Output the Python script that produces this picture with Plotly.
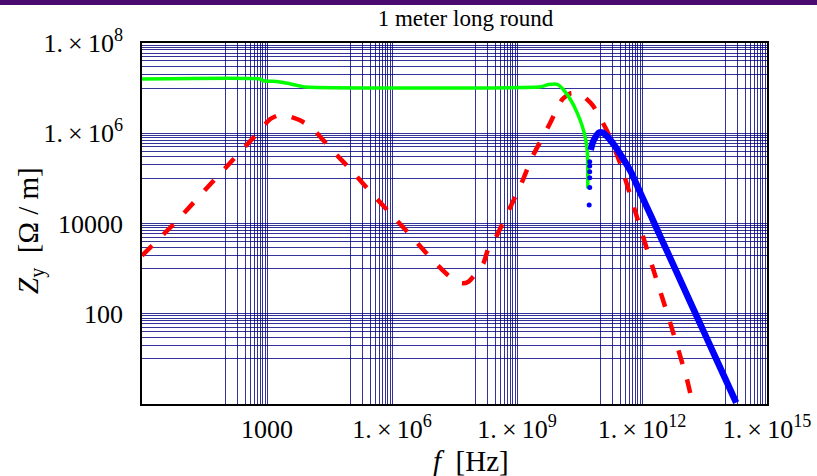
import plotly.graph_objects as go

# ---------------- data ----------------
# red dashed curve
red_f = [1, 6.2, 57, 589, 1.2e3, 2.19e3, 6.0e3, 1.23e4, 3.16e4, 9.5e4, 2.88e5, 9.1e5,
         2.82e6, 8.7e6, 2.29e7, 4.7e7, 6.8e7, 1.55e8, 2.09e8, 3.16e8, 6.0e8, 1.23e9,
         2.34e9, 5.9e9, 1.23e10, 1.95e10, 3.4e10, 6.5e10, 1.48e11, 3.1e11, 7.1e11,
         1.78e12, 4.8e12, 1.2e13, 1.62e13, 2.24e13]
red_z = [1.95e3, 1.04e4, 9.7e4, 9.95e5, 2.07e6, 2.6e6, 1.96e6, 1.29e6, 4.86e5, 1.67e5,
         5.3e4, 1.67e4, 5.4e3, 1.68e3, 700, 476, 513, 1.3e3, 2.95e3, 5.1e3, 1.76e4, 7.1e4,
         3.0e5, 1.52e6, 5.65e6, 7.7e6, 7.3e6, 4.2e6, 1.08e6, 1.97e5, 1.67e4,
         1.1e3, 61, 3.5, 1.1, 0.45]

# green curve
green_f = [1, 692, 813, 1.86e3, 3.09e3, 4.79e3, 8.3e3, 3.7e9, 5.75e9, 9.3e9, 1.32e10,
           1.95e10, 2.82e10, 3.72e10, 4.47e10, 4.9e10, 5.0e10]
green_z = [1.59e7, 1.59e7, 1.46e7, 1.39e7, 1.28e7, 1.17e7, 1.06e7, 1.07e7, 1.2e7, 1.21e7,
           9.1e6, 5.45e6, 2.76e6, 1.39e6, 7.1e5, 3.64e5, 6.0e4]

# blue points: sparse start
blue_dot_f = [5.4e10, 5.56e10, 5.56e10, 5.56e10, 5.56e10, 5.56e10]
blue_dot_z = [2.56e4, 6.3e4, 1.03e5, 1.4e5, 1.87e5, 2.33e5]
# blue points: dense part
blue_f = [5.87e10, 6.46e10, 7.33e10, 9.3e10, 1.12e11, 1.48e11, 2.14e11, 3.1e11, 5.4e11,
          9.3e11, 1.62e12, 2.82e12, 4.47e12, 1.0e13, 3.16e13, 1.0e14, 1.82e14]
blue_z = [4.25e5, 5.97e5, 7.7e5, 1.03e6, 1.03e6, 8.4e5, 5.5e5, 3.3e5, 1.4e5,
          4.6e4, 1.51e4, 4.9e3, 1.95e3, 380, 37, 3.6, 1.07]

# axis ticks
SEP = "\u2009×\u2009"
x_tick_vals = [1e3, 1e6, 1e9, 1e12, 1e15]
x_tick_text = ["1000", f"1.{SEP}10<sup>6</sup>", f"1.{SEP}10<sup>9</sup>",
               f"1.{SEP}10<sup>12</sup>", f"1.{SEP}10<sup>15</sup>"]
y_tick_vals = [1e2, 1e4, 1e6, 1e8]
y_tick_text = ["100", "10000", f"1.{SEP}10<sup>6</sup>", f"1.{SEP}10<sup>8</sup>"]

# grid groups (decade below each labelled tick)
x_grid_decades = [2, 5, 8, 11, 14]
y_grid_decades = [1, 3, 5, 7]
grid_multipliers = [1, 2, 3, 4, 5, 6, 7, 8, 9]

x_minor = [m * 10 ** d for d in x_grid_decades for m in grid_multipliers]
y_minor = [m * 10 ** d for d in y_grid_decades for m in grid_multipliers]

FONT = "Liberation Serif, Times New Roman, serif"
GRID = "rgba(0,0,128,0.8)"

fig = go.Figure()
fig.add_trace(go.Scatter(x=red_f, y=red_z, mode="lines",
                         line=dict(color="#ff0000", width=4.5, dash="14px,16px",
                                   shape="spline", smoothing=0.6),
                         showlegend=False, hoverinfo="skip"))
fig.add_trace(go.Scatter(x=green_f, y=green_z, mode="lines",
                         line=dict(color="#00ff00", width=3.5, shape="spline", smoothing=0.5),
                         showlegend=False, hoverinfo="skip"))
fig.add_trace(go.Scatter(x=blue_dot_f, y=blue_dot_z, mode="markers",
                         marker=dict(color="#0000ff", size=5),
                         showlegend=False, hoverinfo="skip"))
fig.add_trace(go.Scatter(x=blue_f, y=blue_z, mode="lines",
                         line=dict(color="#0000ff", width=6.5, shape="spline", smoothing=0.5),
                         showlegend=False, hoverinfo="skip"))

axis_common = dict(
    type="log", showgrid=True, gridcolor=GRID, gridwidth=1, zeroline=False,
    showline=True, linecolor="black", linewidth=1.5, mirror=True,
    ticks="outside", tickcolor="rgba(0,0,0,0)", automargin=False,
    tickfont=dict(family=FONT, size=26, color="black"),
)

fig.update_xaxes(range=[0, 15], tickmode="array", tickvals=x_tick_vals, ticktext=x_tick_text,
                 ticklen=1,
                 minor=dict(tickmode="array", tickvals=x_minor, showgrid=True,
                            gridcolor=GRID, gridwidth=1, ticks=""),
                 **axis_common)
fig.update_yaxes(range=[0, 8], tickmode="array", tickvals=y_tick_vals, ticktext=y_tick_text,
                 ticklen=12,
                 minor=dict(tickmode="array", tickvals=y_minor, showgrid=True,
                            gridcolor=GRID, gridwidth=1, ticks=""),
                 **axis_common)

fig.update_layout(
    width=817, height=476,
    margin=dict(l=142, r=50, t=43, b=72, autoexpand=False),
    paper_bgcolor="white", plot_bgcolor="white",
    title=dict(text="1 meter long round", x=465.5 / 817, xanchor="center",
               y=1 - 18 / 476, yanchor="middle",
               font=dict(family=FONT, size=23, color="black")),
    shapes=[dict(type="rect", xref="paper", yref="paper",
                 x0=-142 / 625, x1=675 / 625, y0=(404 - 5) / 361, y1=404 / 361 + 0.01,
                 fillcolor="#4b0a6e", line=dict(width=0), layer="above")],
    annotations=[
        dict(text="<i>f</i>  [Hz]", xref="paper", yref="paper",
             x=(471 - 142) / 625, y=(404 - 461) / 361, showarrow=False,
             xanchor="center", yanchor="middle",
             font=dict(family=FONT, size=29, color="black")),
        dict(text="<i>Z</i><sub>y</sub>  [Ω / m]", xref="paper", yref="paper",
             x=(30 - 142) / 625, y=(404 - 231) / 361, showarrow=False, textangle=-90,
             xanchor="center", yanchor="middle",
             font=dict(family=FONT, size=29, color="black")),
    ],
)

fig.write_html("out.html")
